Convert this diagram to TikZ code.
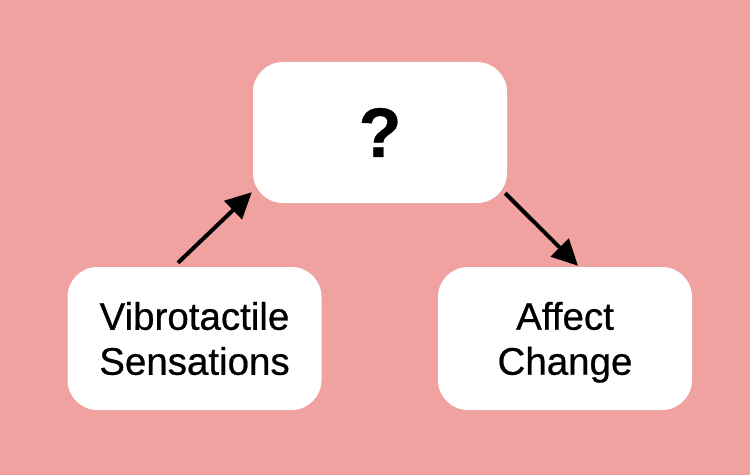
\documentclass[tikz,border=0pt]{standalone}
\usepackage{fontspec}
\setmainfont{Liberation Sans}
\newfontfamily\medfont{Liberation Sans}[FakeBold=0.6]
\usetikzlibrary{arrows.meta}
\definecolor{bgpink}{RGB}{240,162,160}
\tikzset{
  box/.style={fill=white, draw=none, rounded corners=30pt, minimum width=254pt, minimum height=142pt, align=center, inner sep=0pt, font=\medfont\fontsize{38.5}{45}\selectfont},
  conn/.style={line width=4pt, -{Triangle[length=26pt,width=25pt]}}
}
\begin{document}
\begin{tikzpicture}[x=1pt,y=1pt]
\fill[bgpink] (0,0) rectangle (750,475);
\useasboundingbox (0,0) rectangle (750,475);
\node[box, minimum height=141pt] (top) at (380,342.5) {\fontsize{70}{80}\selectfont\bfseries ?};
\node[box, minimum height=143pt] (left) at (194.5,136.5) {Vibrotactile\\Sensations};
\node[box, minimum height=143pt] (right) at (565,136.5) {Affect\\Chan\smash{g}e};
\draw[conn] ([shift={(-16.5,4)}]left.north) -- ([shift={(-1,11)}]top.south west);
\draw[conn] ([shift={(-2,10)}]top.south east) -- ([shift={(13,1)}]right.north);
\end{tikzpicture}
\end{document}
